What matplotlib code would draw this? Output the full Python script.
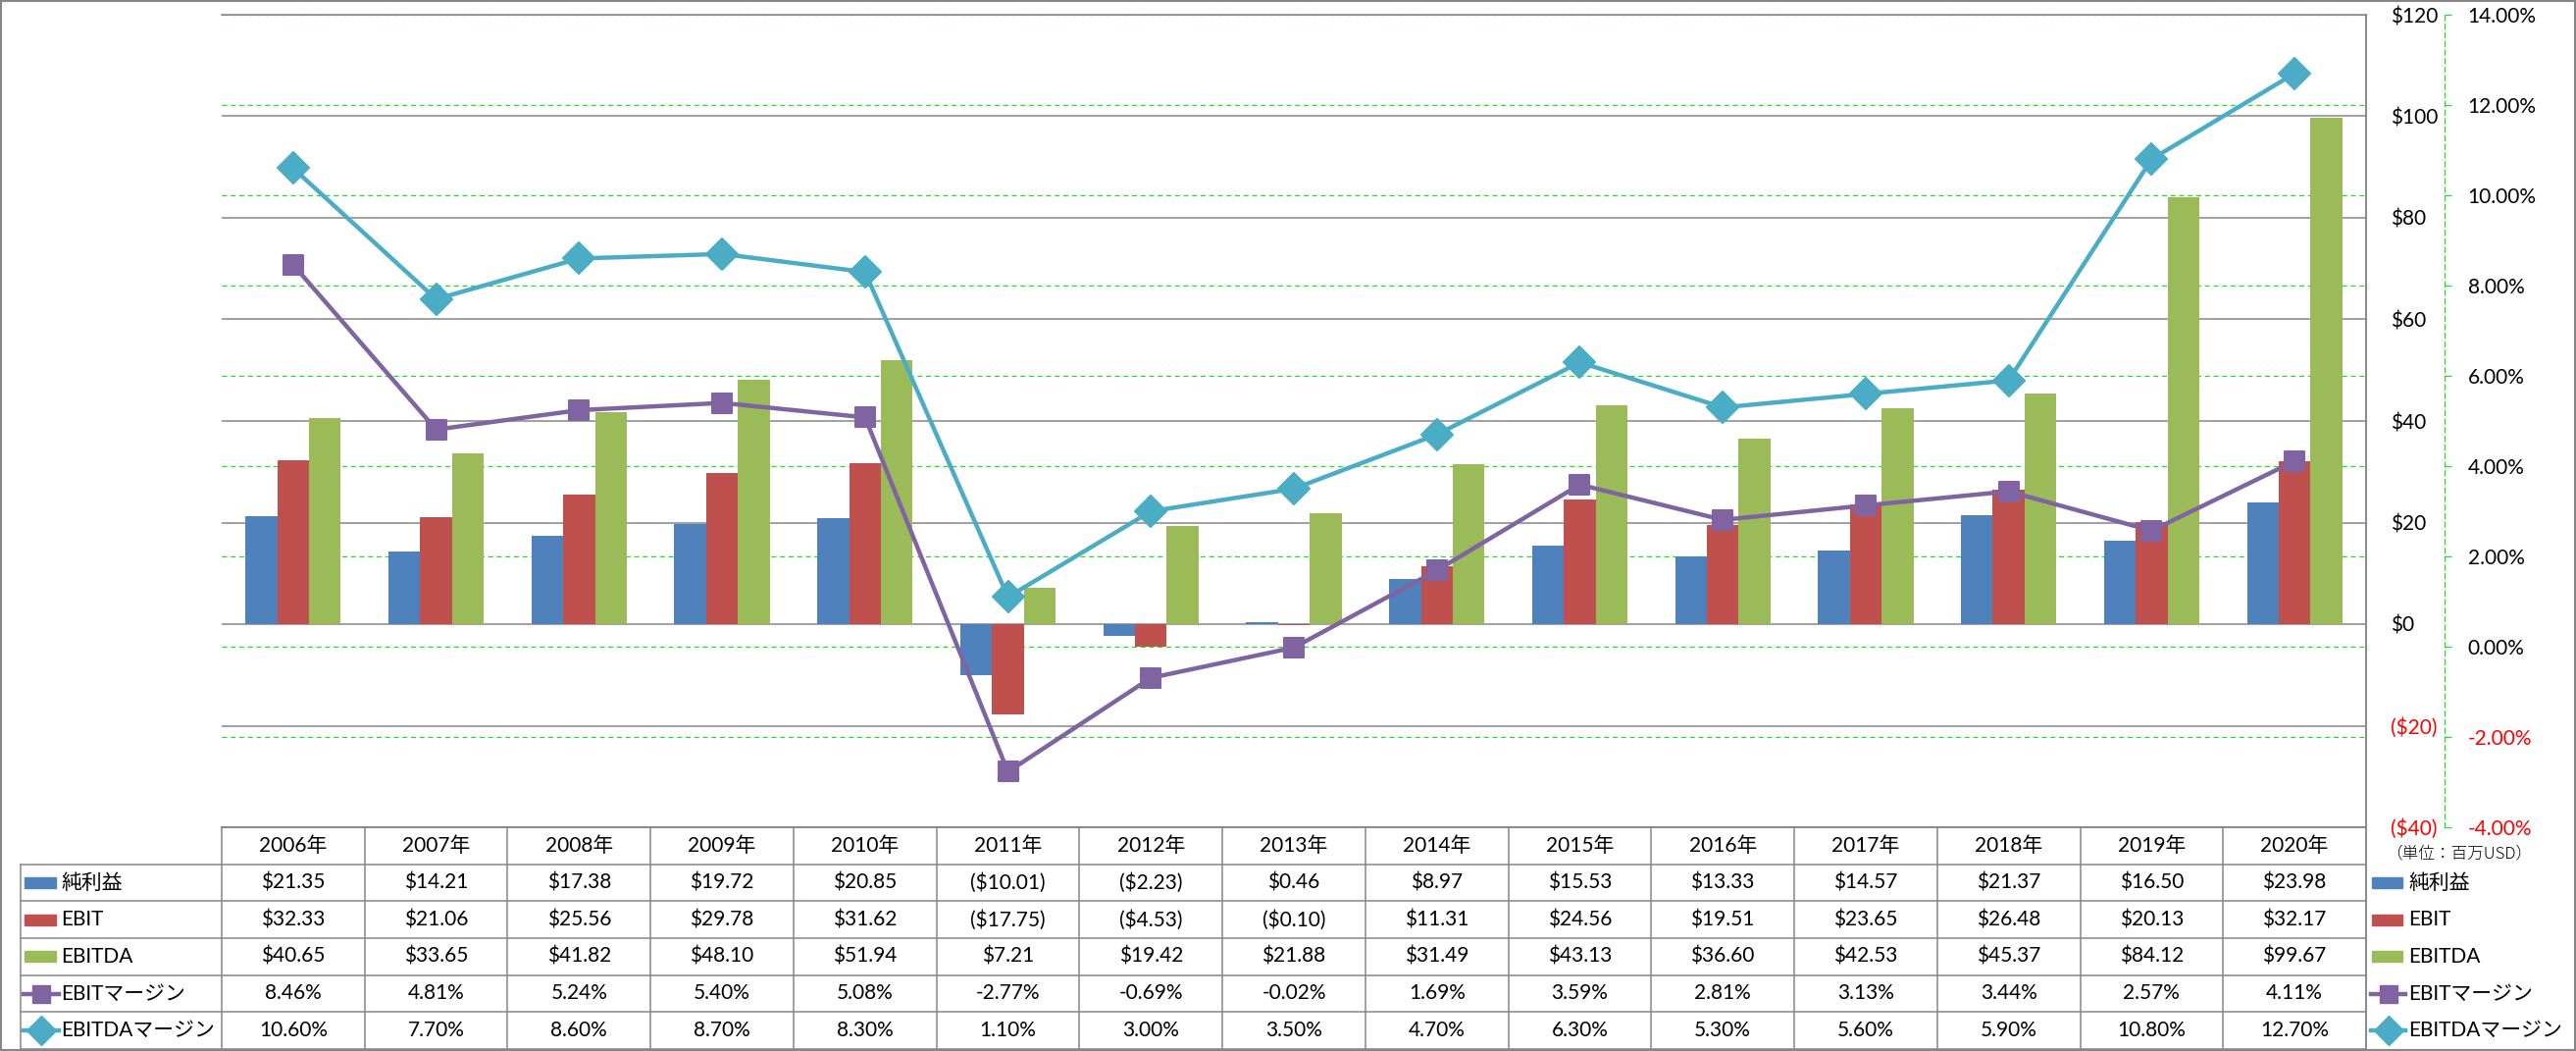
import matplotlib
matplotlib.use('Agg')
import matplotlib.pyplot as plt
from matplotlib.patches import Rectangle
from matplotlib.markers import MarkerStyle
from matplotlib.transforms import blended_transform_factory

plt.rcParams['font.family'] = ['Lato', 'Noto Sans CJK JP']

# ---- data (百万USD / %) ----
YEARS = ['2006年', '2007年', '2008年', '2009年', '2010年', '2011年', '2012年',
         '2013年', '2014年', '2015年', '2016年', '2017年', '2018年', '2019年',
         '2020年']
NET_INCOME = [21.35, 14.21, 17.38, 19.72, 20.85, -10.01, -2.23, 0.46, 8.97,
              15.53, 13.33, 14.57, 21.37, 16.50, 23.98]
EBIT = [32.33, 21.06, 25.56, 29.78, 31.62, -17.75, -4.53, -0.10, 11.31,
        24.56, 19.51, 23.65, 26.48, 20.13, 32.17]
EBITDA = [40.65, 33.65, 41.82, 48.10, 51.94, 7.21, 19.42, 21.88, 31.49,
          43.13, 36.60, 42.53, 45.37, 84.12, 99.67]
EBIT_MARGIN = [8.46, 4.81, 5.24, 5.40, 5.08, -2.77, -0.69, -0.02, 1.69,
               3.59, 2.81, 3.13, 3.44, 2.57, 4.11]
EBITDA_MARGIN = [10.60, 7.70, 8.60, 8.70, 8.30, 1.10, 3.00, 3.50, 4.70,
                 6.30, 5.30, 5.60, 5.90, 10.80, 12.70]

SERIES_NAMES = ['純利益', 'EBIT', 'EBITDA', 'EBITマージン', 'EBITDAマージン']
UNIT_NOTE = '（単位：百万USD）'

BLUE, RED, GREEN_BAR = '#4F81BD', '#C0504D', '#9BBB59'
PURPLE, CYAN = '#8064A2', '#4BACC6'
GRAY = '#868686'
GRID_GREEN = '#22DD22'
FS = 15


def fmt_dollar(v):
    return f'${v:.2f}' if v >= 0 else f'(${abs(v):.2f})'


def fmt_pct(v):
    return f'{v:.2f}%'


W, H = 2626, 1071


def fbox(x0, y0, x1, y1):
    return [x0 / W, 1 - y1 / H, (x1 - x0) / W, (y1 - y0) / H]


fig = plt.figure(figsize=(W / 100, H / 100), dpi=100)
fig.patches.append(Rectangle((0.0004, 0.001), 0.9992, 0.998,
                             transform=fig.transFigure, fill=False,
                             edgecolor=GRAY, lw=1.5))

# ---- plot area ----
PL, PT, PR, PB = 226, 15, 2412, 843
ax = fig.add_axes(fbox(PL, PT, PR, PB))
n = len(YEARS)
x = list(range(n))
w = 1 / 4.5
ax.bar([i - w for i in x], NET_INCOME, w, color=BLUE, zorder=2)
ax.bar(x, EBIT, w, color=RED, zorder=2)
ax.bar([i + w for i in x], EBITDA, w, color=GREEN_BAR, zorder=2)
ax.set_xlim(-0.5, n - 0.5)
ax.set_ylim(-40, 120)
ax.set_xticks([])
ax.grid(axis='y', color=GRAY, lw=1.1)
ax.set_axisbelow(True)
ax.spines['left'].set_visible(False)
for s in ('top', 'bottom', 'right'):
    ax.spines[s].set_color(GRAY)
    ax.spines[s].set_linewidth(1.1)

# secondary (%) axis
ax2 = ax.twinx()
ax2.set_ylim(-4, 14)

# $ axis labels on the right of the plot area (after twinx, which resets sides)
dticks = list(range(-40, 121, 20))
ax.set_yticks(dticks, [('$%d' % t) if t >= 0 else ('($%d)' % -t) for t in dticks])
ax.yaxis.tick_right()
ax.yaxis.set_label_position('right')
ax.tick_params(axis='y', which='both', left=False, labelleft=False,
               right=True, labelright=True, length=0, pad=18, labelsize=FS)
for t, lab in zip(dticks, ax.get_yticklabels()):
    lab.set_color('red' if t < 0 else 'black')

pticks = list(range(-4, 15, 2))
ax2.set_yticks(pticks, [fmt_pct(t) for t in pticks])
for s in ('top', 'bottom', 'left'):
    ax2.spines[s].set_visible(False)
ax2.spines['right'].set_position(('axes', (2492 - PL) / (PR - PL)))
ax2.spines['right'].set_color(GRID_GREEN)
ax2.spines['right'].set_linestyle((0, (4, 3)))
ax2.spines['right'].set_linewidth(0.9)
ax2.tick_params(axis='y', colors=GRID_GREEN, labelcolor='black', length=5,
                width=0.9, pad=12, labelsize=FS)
for t, lab in zip(pticks, ax2.get_yticklabels()):
    lab.set_color('red' if t < 0 else 'black')

# green dashed gridlines for the % axis, drawn behind the bars
trans = blended_transform_factory(ax.transAxes, ax2.transData)
for t in pticks:
    ax.plot([0, 1], [t, t], transform=trans, color=GRID_GREEN, lw=0.9,
            ls=(0, (4, 3)), zorder=1)

sq = MarkerStyle('s', joinstyle='round')
dm = MarkerStyle('D', joinstyle='round')
ax2.plot(x, EBIT_MARGIN, color=PURPLE, lw=3.2, marker=sq, ms=14,
         mfc=PURPLE, mec=PURPLE, mew=1.5, solid_joinstyle='round', zorder=3)
ax2.plot(x, EBITDA_MARGIN, color=CYAN, lw=3.2, marker=dm, ms=16,
         mfc=CYAN, mec=CYAN, mew=1.5, solid_joinstyle='round', zorder=4)

# ---- data table ----
TL, TB = 21, 1069
tax = fig.add_axes(fbox(TL, PB, PR, TB))
tax.axis('off')
unit = (PR - PL) / n


def px2x(px):
    return -0.5 + (px - PL) / unit


tax.set_xlim(px2x(TL), n - 0.5)
tax.set_ylim(6, 0)
lk = dict(color=GRAY, lw=1.1, clip_on=False)
tax.plot([-0.5, n - 0.5], [0, 0], **lk)
for r in range(1, 7):
    tax.plot([px2x(TL), n - 0.5], [r, r], **lk)
tax.plot([px2x(TL), px2x(TL)], [1, 6], **lk)
for k in range(n + 1):
    tax.plot([k - 0.5, k - 0.5], [0, 6], **lk)
# right border of plot area runs down to the chart bottom
fig.add_artist(plt.Line2D([PR / W, PR / W], [0, 1 - PT / H], color=GRAY, lw=1.1))

for i, yr in enumerate(YEARS):
    tax.text(i, 0.5, yr, ha='center', va='center', fontsize=FS)

rows = [
    [fmt_dollar(v) for v in NET_INCOME],
    [fmt_dollar(v) for v in EBIT],
    [fmt_dollar(v) for v in EBITDA],
    [fmt_pct(v) for v in EBIT_MARGIN],
    [fmt_pct(v) for v in EBITDA_MARGIN],
]
for r, vals in enumerate(rows):
    for i, s in enumerate(vals):
        tax.text(i, r + 1.5, s, ha='center', va='center', fontsize=FS)

colors = [BLUE, RED, GREEN_BAR, PURPLE, CYAN]
markers = [None, None, None, sq, dm]
key_ms = [0, 0, 0, 13, 15]


def legend_key(x0px, x1px, r, col, mk, ms):
    yc = r + 1.5
    if mk is None:
        tax.add_patch(Rectangle((px2x(x0px), yc - 0.15), px2x(x1px) - px2x(x0px),
                                0.30, color=col, clip_on=False))
    else:
        tax.plot([px2x(x0px - 1), px2x(x1px + 3)], [yc, yc], color=col, lw=3.2,
                 clip_on=False)
        tax.plot([px2x((x0px + x1px) / 2 + 1)], [yc], marker=mk, ms=ms,
                 color=col, mec=col, clip_on=False)


for r, (name, col, mk) in enumerate(zip(SERIES_NAMES, colors, markers)):
    legend_key(25, 57, r, col, mk, key_ms[r])
    tax.text(px2x(62), r + 1.5, name, ha='left', va='center', fontsize=FS)
    legend_key(2418, 2449, r, col, mk, key_ms[r])
    tax.text(px2x(2455), r + 1.5, name, ha='left', va='center', fontsize=FS,
             clip_on=False)

fig.text(2507 / W, 1 - 870 / H, UNIT_NOTE, ha='center', va='center',
         fontsize=12, family='Noto Sans CJK JP', weight='light')

fig.savefig('out.png', dpi=100)
